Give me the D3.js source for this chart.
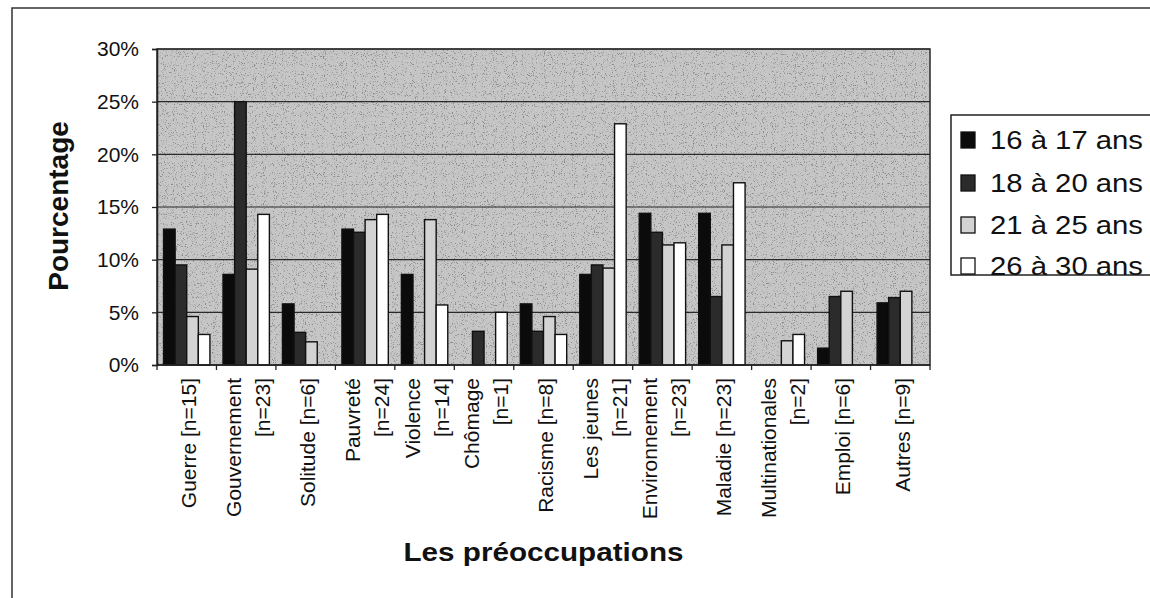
<!DOCTYPE html>
<html>
<head>
<meta charset="utf-8">
<script src="https://cdn.jsdelivr.net/npm/d3@7"></script>
<style>
  html, body { margin: 0; padding: 0; background: #fff; }
  svg { display: block; font-family: "Liberation Sans", Arial, sans-serif; }
</style>
</head>
<body>
<div id="chart"></div>
<script>
// données (en %)
const categories = [
  "Guerre [n=15]", "Gouvernement\n[n=23]", "Solitude [n=6]", "Pauvreté\n[n=24]",
  "Violence\n[n=14]", "Chômage\n[n=1]", "Racisme [n=8]", "Les jeunes\n[n=21]",
  "Environnement\n[n=23]", "Maladie [n=23]", "Multinationales\n[n=2]", "Emploi [n=6]", "Autres [n=9]"
]
const seriesNames = ["16 à 17 ans", "18 à 20 ans", "21 à 25 ans", "26 à 30 ans"]
const age16_17 = [12.9, 8.6, 5.8, 12.9, 8.6, 0, 5.8, 8.6, 14.4, 14.4, 0, 1.6, 5.9]
const age18_20 = [9.5, 25.0, 3.1, 12.6, 0, 3.2, 3.2, 9.5, 12.6, 6.5, 0, 6.5, 6.4]
const age21_25 = [4.6, 9.1, 2.2, 13.8, 13.8, 0, 4.6, 9.2, 11.4, 11.4, 2.3, 7.0, 7.0]
const age26_30 = [2.9, 14.3, 0, 14.3, 5.7, 5.0, 2.9, 22.9, 11.6, 17.3, 2.9, 0, 0]
const yTicks = [0, 5, 10, 15, 20, 25, 30]

const seriesValues = [age16_17, age18_20, age21_25, age26_30]
const fills = ["#0b0b0b", "#2b2b2b", "#d3d3d3", "#ffffff"]

const W = 1150, H = 598
const pLeft = 157, pRight = 930, pTop = 49, pBottom = 365

const svg = d3.select('#chart').append('svg')
  .attr('width', W)
  .attr('height', H)

// texture "papier" du fond
const defs = svg.append('defs')
const f = defs.append('filter').attr('id', 'speckle')
  .attr('x', 0).attr('y', 0).attr('width', 1).attr('height', 1)
f.append('feTurbulence').attr('type', 'fractalNoise').attr('baseFrequency', 0.9)
  .attr('numOctaves', 2).attr('seed', 4)
f.append('feColorMatrix').attr('type', 'matrix')
  .attr('values', '0 0 0 0 0.25  0 0 0 0 0.25  0 0 0 0 0.25  -6 0 0 0 2.5')
f.append('feComposite').attr('in2', 'SourceGraphic').attr('operator', 'in')

// cadre extérieur
svg.append('rect')
  .attr('x', 12).attr('y', 8)
  .attr('width', W + 20).attr('height', H + 20)
  .attr('fill', 'none').attr('stroke', '#333').attr('stroke-width', 1.5)

const x0 = d3.scaleBand()
  .domain(categories)
  .range([pLeft, pRight])
  .paddingInner(0.22)
  .paddingOuter(0.11)
const x1 = d3.scaleBand()
  .domain(d3.range(seriesNames.length))
  .range([0, x0.bandwidth()])
const y = d3.scaleLinear().domain([0, 30]).range([pBottom, pTop])

// zone de tracé
svg.append('rect')
  .attr('x', pLeft).attr('y', pTop)
  .attr('width', pRight - pLeft).attr('height', pBottom - pTop)
  .attr('fill', '#c6c6c6')
svg.append('rect')
  .attr('x', pLeft).attr('y', pTop)
  .attr('width', pRight - pLeft).attr('height', pBottom - pTop)
  .attr('fill', '#000')
  .attr('filter', 'url(#speckle)')

// quadrillage
svg.append('g')
  .selectAll('line')
  .data(yTicks.slice(1))
  .enter()
  .append('line')
  .attr('x1', pLeft).attr('x2', pRight)
  .attr('y1', d => y(d)).attr('y2', d => y(d))
  .attr('stroke', '#2a2a2a').attr('stroke-width', 1.2)

// barres
const groups = svg.append('g')
  .selectAll('g')
  .data(categories)
  .enter()
  .append('g')
  .attr('transform', d => 'translate(' + x0(d) + ',0)')

groups.selectAll('rect')
  .data((d, i) => seriesValues.map((s, k) => ({ k: k, v: s[i] })).filter(b => b.v > 0))
  .enter()
  .append('rect')
  .attr('x', d => x1(d.k))
  .attr('width', x1.bandwidth())
  .attr('y', d => y(d.v))
  .attr('height', d => y(0) - y(d.v))
  .attr('fill', d => fills[d.k])
  .attr('stroke', '#111')
  .attr('stroke-width', 1.4)

// bord de la zone
svg.append('rect')
  .attr('x', pLeft).attr('y', pTop)
  .attr('width', pRight - pLeft).attr('height', pBottom - pTop)
  .attr('fill', 'none').attr('stroke', '#2a2a2a').attr('stroke-width', 1.5)

// axe Y
const yAxis = svg.append('g')
  .attr('transform', 'translate(' + pLeft + ',0)')
  .call(d3.axisLeft(y).tickValues(yTicks).tickSize(5).tickPadding(13).tickFormat(d => d + '%'))
yAxis.select('.domain').attr('stroke', '#222').attr('stroke-width', 1.5)
yAxis.selectAll('.tick line').attr('stroke', '#222').attr('stroke-width', 1.3)
yAxis.selectAll('text')
  .attr('font-size', 21)
  .attr('fill', '#111')
  .attr('font-family', '"Liberation Sans", Arial, sans-serif')

// axe X : graduations aux limites des catégories
const step = x0.step()
const bounds = d3.range(categories.length + 1).map(i => pLeft + i * step)
svg.append('g')
  .selectAll('line')
  .data(bounds)
  .enter()
  .append('line')
  .attr('x1', d => d).attr('x2', d => d)
  .attr('y1', pBottom).attr('y2', pBottom + 5)
  .attr('stroke', '#222').attr('stroke-width', 1.3)
svg.append('line')
  .attr('x1', pLeft).attr('x2', pRight)
  .attr('y1', pBottom).attr('y2', pBottom)
  .attr('stroke', '#222').attr('stroke-width', 1.5)

// étiquettes de catégories
const labelTop = 378
const lineGap = 29
const xLabels = svg.append('g')
  .selectAll('text')
  .data(categories)
  .enter()
  .append('text')
  .attr('font-size', 21)
  .attr('fill', '#111')
  .attr('text-anchor', 'end')
  .attr('transform', d => {
    const cx = x0(d) + x0.bandwidth() / 2 + 2
    return 'translate(' + cx + ',' + labelTop + ') rotate(-90)'
  })
xLabels.each(function (d) {
  const lines = d.split('\n')
  const t = d3.select(this)
  lines.forEach((ln, i) => {
    const off = (i - (lines.length - 1) / 2) * lineGap
    t.append('tspan')
      .attr('x', 0)
      .attr('y', off)
      .attr('dy', '0.36em')
      .text(ln)
  })
})

// titres des axes
svg.append('text')
  .attr('transform', 'translate(68,206) rotate(-90)')
  .attr('text-anchor', 'middle')
  .attr('font-size', 28)
  .attr('font-weight', 'bold')
  .attr('fill', '#111')
  .text('Pourcentage')

svg.append('text')
  .attr('x', (pLeft + pRight) / 2).attr('y', 561)
  .attr('text-anchor', 'middle')
  .attr('font-size', 26)
  .attr('font-weight', 'bold')
  .attr('fill', '#111')
  .attr('textLength', 280)
  .attr('lengthAdjust', 'spacingAndGlyphs')
  .text('Les préoccupations')

// légende
svg.append('rect')
  .attr('x', 951).attr('y', 115)
  .attr('width', 230).attr('height', 160)
  .attr('fill', '#fff').attr('stroke', '#222').attr('stroke-width', 1.5)

const legendY = [140, 183, 225, 266]
const legend = svg.append('g')
  .selectAll('g')
  .data(seriesNames)
  .enter()
  .append('g')
  .attr('transform', (d, i) => 'translate(961,' + legendY[i] + ')')
legend.append('rect')
  .attr('x', 0).attr('y', -8)
  .attr('width', 14).attr('height', 16)
  .attr('fill', (d, i) => fills[i])
  .attr('stroke', '#111').attr('stroke-width', 1.3)
legend.append('text')
  .attr('x', 29).attr('y', 9)
  .attr('font-size', 25)
  .attr('fill', '#111')
  .attr('textLength', 153)
  .attr('lengthAdjust', 'spacingAndGlyphs')
  .text(d => d)
</script>
</body>
</html>
